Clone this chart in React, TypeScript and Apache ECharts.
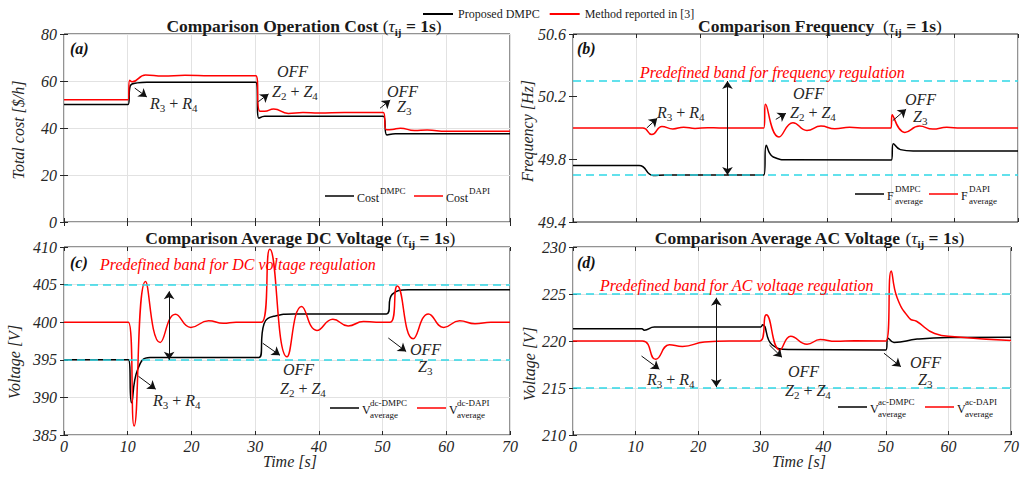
import { useEffect, useRef } from 'react';
import * as echarts from 'echarts';

const SERIF = "'Liberation Serif', serif";
const INK = '#262626';
const BLACK = '#000000';
const RED = '#ff0000';
const CYAN = '#2fd8e6';
const GRIDLINE = '#e2e2e2';

const SERIES_DMPC = 'Proposed DMPC';
const SERIES_DAPI = 'Method reported in [3]';

// time axis [s]
const timeRange = { min: 0, max: 70, step: 10 };

// (a) operation cost [$/h]  — [time, value]
const costDmpc = [
  [0, 50], [10.05, 50], [10.4, 58], [11.5, 59.2], [13, 59.5], [30.1, 59.5],
  [30.6, 44.2], [31.5, 45], [50.1, 45], [50.7, 37], [52, 37.6], [70, 37.6],
];
const costDapi = [
  [0, 52], [10.05, 52], [10.3, 60.3], [10.7, 59.7], [12.8, 62.6], [15.5, 62.1],
  [19, 62.4], [23, 62.2], [30.1, 62.2], [30.7, 47.2], [31.5, 47.1], [32.9, 48.1],
  [35.2, 46.2], [37.5, 46.6], [40, 46.4], [44, 46.6], [50.1, 46.6], [50.6, 39.3],
  [51.5, 39.4], [52.8, 39.9], [55, 38.9], [57, 39.1], [60, 38.6], [70, 38.6],
];
const costAxis = { min: 0, max: 80, step: 20 };

// (b) average frequency [Hz]
const freqDmpc = [
  [0, 49.76], [10.4, 49.76], [12.6, 49.697], [14.5, 49.7], [30.02, 49.7],
  [30.4, 49.89], [31.5, 49.815], [34, 49.797], [50.05, 49.795], [50.4, 49.9],
  [51.5, 49.862], [53.5, 49.853], [70, 49.853],
];
const freqDapi = [
  [0, 50], [11.0, 50], [12.4, 49.958], [14.0, 50.01], [15.7, 49.994], [17.4, 50.005],
  [19.2, 49.997], [21.2, 50.002], [23, 50], [30.02, 50], [30.3, 50.152], [32.4, 49.943],
  [34.6, 50.034], [36.8, 49.984], [39.0, 50.012], [41.2, 49.995], [43.5, 50.004],
  [46, 50], [50.02, 50], [50.2, 50.085], [52.2, 49.972], [54.5, 50.012], [56.6, 49.993],
  [58.8, 50.004], [61, 50], [70, 50],
];
const freqAxis = { min: 49.4, max: 50.6 };
const freqTicks = [49.4, 49.8, 50.2, 50.6];
const freqBand = [49.7, 50.3];

// (c) average DC voltage [V]
const dcDmpc = [
  [0, 395], [10.1, 395], [10.6, 389.3], [11.6, 393.8], [13.5, 395.3], [30.6, 395.3],
  [31.4, 399.8], [33, 400.8], [36, 401.1], [50.6, 401.1], [51.5, 403.7], [54, 404.3],
  [70, 404.3],
];
const dcDapi = [
  [0, 400], [10.1, 400], [11.0, 386.2], [12.8, 405.4], [15.1, 397.3], [17.5, 401.05],
  [19.9, 399.3], [22.7, 400.2], [25, 399.85], [27, 400], [31.0, 400], [32.3, 409.7],
  [35.0, 395.4], [37.3, 402.1], [39.7, 398.9], [42.2, 400.4], [44.6, 399.5], [47, 400.1],
  [49, 400], [51.2, 400], [52.3, 404.8], [54.8, 397.8], [57.2, 401.1], [59.6, 399.3],
  [62.1, 400.2], [64.5, 399.8], [67, 400], [70, 400],
];
const dcAxis = { min: 385, max: 410, step: 5 };
const dcBand = [395, 405];

// (d) average AC voltage [V]
const acDmpc = [
  [0, 221.3], [11, 221.3], [11.4, 221.15], [13, 221.48], [30.0, 221.5], [30.3, 221.72],
  [31.8, 219.6], [34.5, 219.1], [50.0, 219.05], [50.35, 220.3], [51.3, 219.85],
  [55, 220.2], [60, 220.37], [70, 220.4],
];
const acDapi = [
  [0, 220], [11.1, 220], [13.2, 218.05], [15.4, 219.6], [17.5, 219.42], [21, 219.9],
  [25, 220], [29.9, 220], [30.9, 222.8], [33.05, 219.05], [34.8, 220.5], [37.4, 219.65],
  [39.5, 220.15], [42, 219.97], [45, 220.02], [50.0, 220], [50.86, 227.45], [51.8, 224.6],
  [53.8, 222.4], [54.9, 222.1], [57.8, 220.8], [61, 220.45], [70, 220.05],
];
const acAxis = { min: 210, max: 230, step: 5 };
const acBand = [215, 225];

// pointer arrows [t0, v0, t1, v1] (head at the second point)
const costArrows = [[11.1, 57, 13.0, 53.2], [30.5, 51.2, 32.1, 54.5], [49.6, 48.4, 51.2, 51.9]];
const freqArrows = [[11.6, 50.0, 13.25, 50.062], [31.9, 50.055, 33.5, 50.094], [50.3, 50.047, 52.4, 50.12]];
const dcArrows = [[11.7, 392.8, 14.4, 391.1], [31.2, 397.2, 33.9, 395.6], [50.9, 397.9, 53.7, 396.1]];
const acArrows = [[10.95, 218.4, 13.8, 217.0], [31.4, 219.57, 33.4, 218.26], [49.7, 218.7, 52.4, 217.27]];

// double-headed span markers [t, low, high]
const freqSpan = [24.3, 49.7, 50.3];
const dcSpan = [16.5, 395, 404.1];
const acSpan = [22.9, 215.1, 224.6];

type Panel = {
  rect: { left: number; top: number; width: number; height: number };
  yAxis: { min: number; max: number; step?: number };
  yTicks?: number[];
  dmpc: number[][];
  dapi: number[][];
  band?: number[];
  arrows: number[][];
  span?: number[];
  showTime: boolean;
};

const panels: Panel[] = [
  { rect: { left: 64, top: 34, width: 446, height: 188 }, yAxis: costAxis, dmpc: costDmpc, dapi: costDapi, arrows: costArrows, showTime: false },
  { rect: { left: 573, top: 34, width: 445, height: 188 }, yAxis: freqAxis, yTicks: freqTicks, dmpc: freqDmpc, dapi: freqDapi, band: freqBand, arrows: freqArrows, span: freqSpan, showTime: false },
  { rect: { left: 64, top: 247, width: 446, height: 188 }, yAxis: dcAxis, dmpc: dcDmpc, dapi: dcDapi, band: dcBand, arrows: dcArrows, span: dcSpan, showTime: true },
  { rect: { left: 573, top: 247, width: 445, height: 188 }, yAxis: acAxis, dmpc: acDmpc, dapi: acDapi, band: acBand, arrows: acArrows, span: acSpan, showTime: true },
];

const tickStyle = { inside: true, length: 4, lineStyle: { color: INK, width: 1 } };
const labelFont = { fontFamily: SERIF, fontStyle: 'italic', fontSize: 16, color: INK };

function yAxisFor(p: Panel, i: number, mirror: boolean) {
  const base: any = {
    type: 'value',
    gridIndex: i,
    min: p.yAxis.min,
    max: p.yAxis.max,
    position: mirror ? 'right' : 'left',
    axisLine: { show: false },
    axisTick: { ...tickStyle },
    axisLabel: mirror ? { show: false } : { ...labelFont, margin: 7 },
    splitLine: { show: !mirror && !p.yTicks, lineStyle: { color: GRIDLINE, width: 1 } },
  };
  if (p.yAxis.step) base.interval = p.yAxis.step;
  if (p.yTicks) {
    base.axisTick.customValues = p.yTicks;
    if (!mirror) base.axisLabel.customValues = p.yTicks;
  }
  return base;
}

function xAxisFor(p: Panel, i: number, mirror: boolean) {
  return {
    type: 'value',
    gridIndex: i,
    min: timeRange.min,
    max: timeRange.max,
    interval: timeRange.step,
    position: mirror ? 'top' : 'bottom',
    axisLine: { show: false },
    axisTick: { ...tickStyle },
    axisLabel: !mirror && p.showTime ? { ...labelFont, margin: 3 } : { show: false },
    splitLine: { show: !mirror, lineStyle: { color: GRIDLINE, width: 1 } },
  };
}

function seriesFor(p: Panel, i: number) {
  const arrowData: any[] = p.arrows.map(([t0, v0, t1, v1]) => [
    { coord: [t0, v0], symbol: 'none' },
    { coord: [t1, v1], symbol: 'arrow' },
  ]);
  if (p.span) {
    const [t, lo, hi] = p.span;
    arrowData.push([
      { coord: [t, lo], symbol: 'arrow' },
      { coord: [t, hi], symbol: 'arrow' },
    ]);
  }
  const common = {
    type: 'line',
    xAxisIndex: i,
    yAxisIndex: i,
    symbol: 'none',
    showSymbol: false,
    smooth: 0.5,
    silent: true,
  };
  return [
    {
      ...common,
      name: SERIES_DMPC,
      data: p.dmpc,
      lineStyle: { color: BLACK, width: 1.5 },
      itemStyle: { color: BLACK },
      markLine: p.band
        ? {
            silent: true,
            symbol: ['none', 'none'],
            label: { show: false },
            lineStyle: { color: CYAN, width: 1.5, type: [8, 5] },
            data: p.band.map((v) => ({ yAxis: v })),
          }
        : undefined,
    },
    {
      ...common,
      name: SERIES_DAPI,
      data: p.dapi,
      lineStyle: { color: RED, width: 1.5 },
      itemStyle: { color: RED },
      markLine: {
        silent: true,
        symbolSize: 8,
        label: { show: false },
        lineStyle: { color: '#111', width: 1, type: 'solid' },
        data: arrowData,
      },
    },
  ];
}

// ---- text helpers ----
function text(x: number, y: number, content: string, style: any, extra: any = {}) {
  const align = style.align || 'left';
  const valign = style.verticalAlign || 'middle';
  return {
    type: 'text',
    x,
    y,
    silent: true,
    z: 100,
    ...extra,
    style: {
      fill: INK,
      fontFamily: SERIF,
      fontSize: 16,
      ...style,
      text: content,
      align,
      verticalAlign: valign,
      textAlign: align,
      textVerticalAlign: valign,
    },
  };
}

const titleRich = {
  b: { fontFamily: SERIF, fontWeight: 'bold', fontSize: 17.5, fill: '#1a1a1a', lineHeight: 22 },
  r: { fontFamily: SERIF, fontSize: 17.5, fill: '#1a1a1a', lineHeight: 22 },
  t: { fontFamily: SERIF, fontStyle: 'italic', fontSize: 17.5, fill: '#1a1a1a', lineHeight: 22 },
  s: { fontFamily: SERIF, fontWeight: 'bold', fontSize: 11, fill: '#1a1a1a', lineHeight: 11, verticalAlign: 'bottom' },
};
const mathRich = {
  m: { fontFamily: SERIF, fontStyle: 'italic', fontSize: 16, fill: INK, lineHeight: 20 },
  p: { fontFamily: SERIF, fontSize: 16, fill: INK, lineHeight: 20 },
  s: { fontFamily: SERIF, fontSize: 11, fill: INK, lineHeight: 10, verticalAlign: 'bottom' },
};

const title = (cx: number, cy: number, head: string) =>
  text(cx, cy, `{b|${head}}{r|(}{t|τ}{s|ij}{b| = 1s}{r|)}`, { align: 'center', rich: titleRich });

const math = (x: number, y: number, s: string) => text(x, y, s, { rich: mathRich });
const sumLabel = (x: number, y: number, a: string, i: string, j: string) =>
  math(x, y, `{m|${a}}{s|${i}}{p| + }{m|${a}}{s|${j}}`);
const offLabel = (x: number, y: number) => text(x, y, 'OFF', { fontStyle: 'italic' });
const zLabel = (x: number, y: number, k: string) => math(x, y, `{m|Z}{s|${k}}`);

const bandNote = (x: number, y: number, s: string) =>
  text(x, y, s, { fill: RED, fontStyle: 'italic', fontSize: 16 });
const panelTag = (x: number, y: number, s: string) =>
  text(x, y, s, { fontStyle: 'italic', fontWeight: 'bold', fontSize: 16, fill: '#111' });

const yName = (x: number, y: number, s: string) =>
  text(x, y, s, { align: 'center', fontStyle: 'italic', fontSize: 16 }, { rotation: Math.PI / 2 });
const xName = (x: number, y: number, s: string) =>
  text(x, y, s, { align: 'center', fontStyle: 'italic', fontSize: 16 });

function seg(x1: number, x2: number, y: number, color: string) {
  return { type: 'line', silent: true, z: 100, shape: { x1, y1: y, x2, y2: y }, style: { stroke: color, lineWidth: 1.5 } };
}
// inner legend entry: line + main symbol with superscript (and optional subscript)
function legendEntry(x: number, y: number, color: string, main: string, sup: string, sub?: string, mainW = 0) {
  const els: any[] = [seg(x, x + 29, y, color)];
  const mx = x + 32;
  els.push(text(mx, y + 2, main, { fontSize: 12, fill: '#111' }));
  els.push(text(mx + mainW, y - 5, sup, { fontSize: 9, fill: '#111' }));
  if (sub) els.push(text(mx + mainW, y + 7, sub, { fontSize: 9, fill: '#111' }));
  return els;
}

const graphics: any[] = [
  // panel titles
  title(304, 26, 'Comparison Operation Cost '),
  title(820, 26, 'Comparison Frequency  '),
  title(300, 238, 'Comparison Average DC Voltage '),
  title(809, 238, 'Comparison Average AC Voltage '),
  // axis names
  yName(18, 130, 'Total cost [$/h]'),
  yName(527, 131, 'Frequency [Hz]'),
  yName(14, 362, 'Voltage [V]'),
  yName(529, 364, 'Voltage [V]'),
  xName(290, 461, 'Time [s]'),
  xName(799, 461, 'Time [s]'),
  // panel tags
  panelTag(70, 48, '(a)'),
  panelTag(577, 48, '(b)'),
  panelTag(70, 262, '(c)'),
  panelTag(577, 262, '(d)'),
  // regulation bands
  bandNote(640, 72, 'Predefined band for frequency regulation'),
  bandNote(100, 264, 'Predefined band for DC voltage regulation'),
  bandNote(600, 285, 'Predefined band for AC voltage regulation'),
  // (a) events
  sumLabel(150, 103, 'R', '3', '4'),
  offLabel(277, 71),
  sumLabel(272, 91, 'Z', '2', '4'),
  offLabel(387, 91),
  zLabel(397, 106, '3'),
  // (b) events
  sumLabel(657, 112, 'R', '3', '4'),
  offLabel(793, 93),
  sumLabel(790, 112, 'Z', '2', '4'),
  offLabel(905, 99),
  zLabel(913, 116, '3'),
  // (c) events
  sumLabel(153, 400, 'R', '3', '4'),
  offLabel(283, 369),
  sumLabel(280, 388, 'Z', '2', '4'),
  offLabel(410, 349),
  zLabel(418, 366, '3'),
  // (d) events
  sumLabel(647, 379, 'R', '3', '4'),
  offLabel(788, 371),
  sumLabel(785, 390, 'Z', '2', '4'),
  offLabel(910, 362),
  zLabel(918, 379, '3'),
  // inner legends
  ...legendEntry(325, 196, BLACK, 'Cost', 'DMPC', undefined, 23),
  ...legendEntry(414, 196, RED, 'Cost', 'DAPI', undefined, 23),
  ...legendEntry(855, 194, BLACK, 'F', 'DMPC', 'average', 8),
  ...legendEntry(929, 194, RED, 'F', 'DAPI', 'average', 8),
  ...legendEntry(330, 408, BLACK, 'V', 'dc-DMPC', 'average', 8),
  ...legendEntry(417, 408, RED, 'V', 'dc-DAPI', 'average', 8),
  ...legendEntry(838, 407, BLACK, 'V', 'ac-DMPC', 'average', 8),
  ...legendEntry(925, 407, RED, 'V', 'ac-DAPI', 'average', 8),
];

export default function App() {
  const ref = useRef<HTMLDivElement>(null);

  useEffect(() => {
    if (!ref.current) return;
    const chart = echarts.init(ref.current, undefined, { renderer: 'svg' });
    const option: any = {
      animation: false,
      backgroundColor: '#ffffff',
      legend: {
        data: [SERIES_DMPC, SERIES_DAPI],
        left: 418,
        top: 3,
        icon: 'rect',
        itemWidth: 30,
        itemHeight: 2,
        itemGap: 10,
        selectedMode: false,
        textStyle: { fontFamily: SERIF, fontSize: 12, color: '#1a1a1a' },
      },
      grid: panels.map((p) => ({
        ...p.rect,
        show: true,
        borderColor: INK,
        borderWidth: 1,
        backgroundColor: 'transparent',
        containLabel: false,
      })),
      xAxis: [
        ...panels.map((p, i) => xAxisFor(p, i, false)),
        ...panels.map((p, i) => xAxisFor(p, i, true)),
      ],
      yAxis: [
        ...panels.map((p, i) => yAxisFor(p, i, false)),
        ...panels.map((p, i) => yAxisFor(p, i, true)),
      ],
      series: panels.flatMap((p, i) => seriesFor(p, i)),
      graphic: graphics,
    };
    chart.setOption(option);
    return () => chart.dispose();
  }, []);

  return (
    <div
      ref={ref}
      style={{ position: 'fixed', left: 0, top: 0, width: 1022, height: 477, background: '#fff' }}
    />
  );
}
